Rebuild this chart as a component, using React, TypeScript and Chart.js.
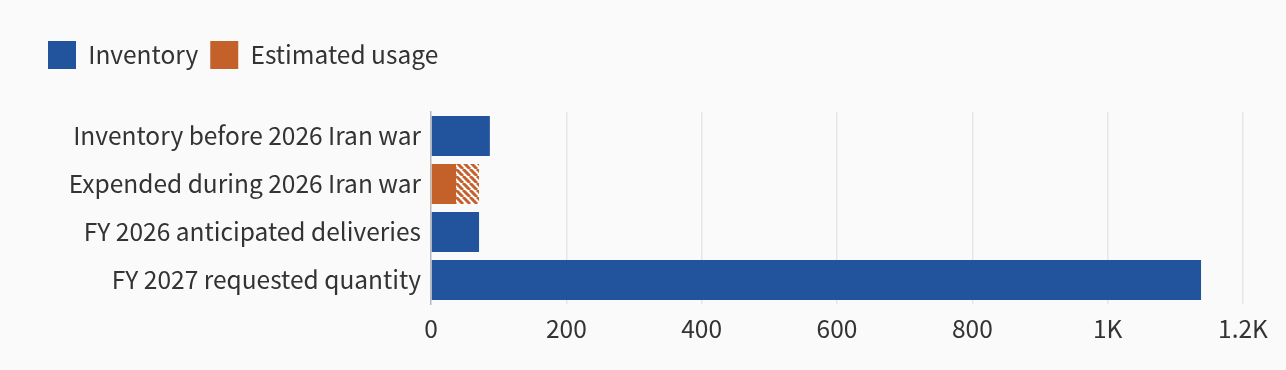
import React, { useEffect, useRef } from "react";
import { Chart, registerables } from "chart.js";

Chart.register(...registerables);

const categories = [
  "Inventory before 2026 Iran war",
  "Expended during 2026 Iran war",
  "FY 2026 anticipated deliveries",
  "FY 2027 requested quantity",
];
const inventoryValues = [87, null, 71, 1138];
const usageLowValues = [null, 37, null, null];
const usageRangeValues = [null, 34, null, null];
const tickValues = [0, 200, 400, 600, 800, 1000, 1200];
const tickLabels = ["0", "200", "400", "600", "800", "1K", "1.2K"];

const BLUE = "#22539d";
const ORANGE = "#c4612b";
const FONT = "'Noto Sans CJK JP', 'Noto Sans', sans-serif";
const FONT_SIZE = 24.5;

function makeHatch(): CanvasPattern | string {
  const c = document.createElement("canvas");
  const s = 7;
  c.width = s;
  c.height = s;
  const ctx = c.getContext("2d");
  if (!ctx) return ORANGE;
  ctx.fillStyle = "#ffffff";
  ctx.fillRect(0, 0, s, s);
  ctx.strokeStyle = ORANGE;
  ctx.lineWidth = 3;
  ctx.beginPath();
  for (let k = -1; k <= 1; k++) {
    ctx.moveTo(k * s, 0);
    ctx.lineTo(k * s + s, s);
  }
  ctx.stroke();
  return ctx.createPattern(c, "repeat") || ORANGE;
}

export default function App() {
  const ref = useRef<HTMLCanvasElement>(null);
  useEffect(() => {
    document.body.style.background = "#fafafa";
    const canvas = ref.current;
    if (!canvas) return;
    const hatch = makeHatch();
    const legendSpacer = {
      id: "legendSpacer",
      beforeInit(chart: any) {
        const orig = chart.legend.fit;
        chart.legend.fit = function () {
          orig.bind(chart.legend)();
          this.height += 33;
        };
      },
    };
    const chart = new Chart(canvas, {
      type: "bar",
      data: {
        labels: categories,
        datasets: [
          { label: "Inventory", data: inventoryValues as any, backgroundColor: BLUE, barPercentage: 0.834, categoryPercentage: 1 },
          { label: "Estimated usage", data: usageLowValues as any, backgroundColor: ORANGE, barPercentage: 0.834, categoryPercentage: 1 },
          { label: "Estimated usage range", data: usageRangeValues as any, backgroundColor: hatch as any, barPercentage: 0.834, categoryPercentage: 1 },
        ],
      },
      options: {
        indexAxis: "y",
        animation: false,
        responsive: false,
        maintainAspectRatio: false,
        layout: { padding: { left: 28, right: 35, top: 21, bottom: 8.6 } },
        plugins: {
          tooltip: { enabled: false },
          legend: {
            position: "top",
            align: "start",
            labels: {
              boxWidth: 28,
              boxHeight: 28,
              padding: 12,
              color: "#333333",
              font: { family: FONT, size: FONT_SIZE },
              filter: (item: any) => item.datasetIndex < 2,
            },
          },
        },
        scales: {
          x: {
            stacked: true,
            min: 0,
            max: 1200,
            afterBuildTicks: (scale: any) => {
              scale.ticks = tickValues.map((v) => ({ value: v }));
            },
            ticks: {
              color: "#333333",
              font: { family: FONT, size: FONT_SIZE },
              padding: 10,
              callback: (v: any) => {
                const i = tickValues.indexOf(Number(v));
                return i >= 0 ? tickLabels[i] : "";
              },
            },
            grid: {
              color: (ctx: any) => (ctx.tick && ctx.tick.value === 0 ? "rgba(0,0,0,0)" : "#e6e6e6"),
              lineWidth: 1.5,
              drawTicks: false,
            },
            border: { display: false },
          },
          y: {
            stacked: true,
            afterFit: (scale: any) => {
              scale.width = 395;
            },
            ticks: { color: "#333333", font: { family: FONT, size: FONT_SIZE }, padding: 10 },
            grid: { display: false, drawTicks: false },
            border: { display: true, color: "#b8b8b8", width: 1.5 },
          },
        },
      },
      plugins: [legendSpacer],
    });
    return () => chart.destroy();
  }, []);
  return (
    <div style={{ width: 1270, height: 354 }}>
      <canvas ref={ref} width={1270} height={354} style={{ width: 1270, height: 354 }} />
    </div>
  );
}
